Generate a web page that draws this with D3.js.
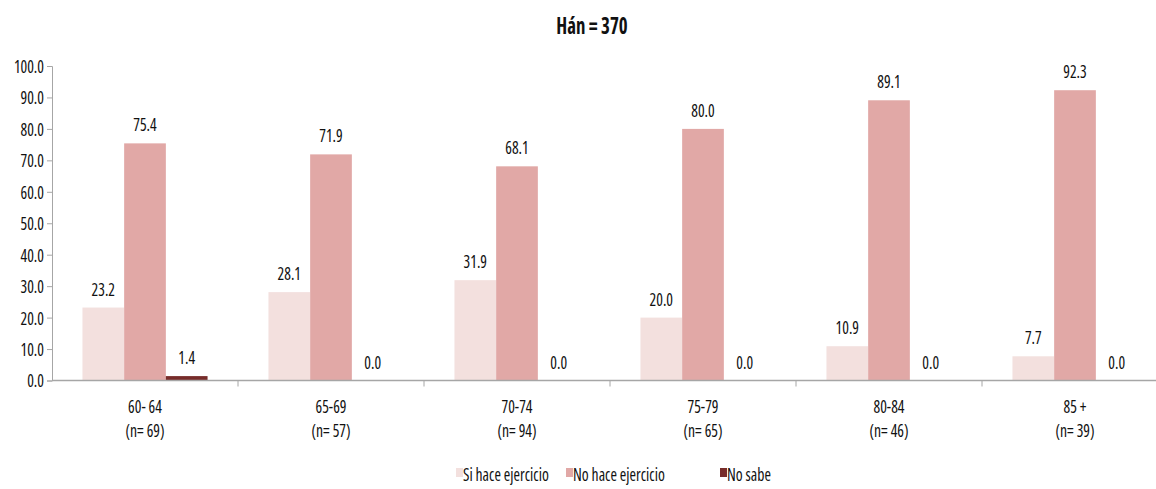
<!DOCTYPE html>
<html><head><meta charset="utf-8">
<script src="https://cdn.jsdelivr.net/npm/d3@7"></script>
<style>
body{margin:0;background:#fff;}
text{font-family:"Open Sans",sans-serif;font-stretch:condensed;fill:#111;}
</style></head>
<body><svg id="c" width="1156" height="489"></svg>
<script>
const categories = ["60- 64", "65-69", "70-74", "75-79", "80-84", "85 +"];
const nLabels = ["(n= 69)", "(n= 57)", "(n= 94)", "(n= 65)", "(n= 46)", "(n= 39)"];
const seriesNames = ["Si hace ejercicio", "No hace ejercicio", "No sabe"];
const siHace = [23.2, 28.1, 31.9, 20.0, 10.9, 7.7];
const noHace = [75.4, 71.9, 68.1, 80.0, 89.1, 92.3];
const noSabe = [1.4, 0.0, 0.0, 0.0, 0.0, 0.0];
const yTicks = [0, 10, 20, 30, 40, 50, 60, 70, 80, 90, 100];
const title = "Hán = 370";
const colors = ["#f3e0de", "#e1a8a6", "#772c2a"];

const FS = 18, SX = 0.87;
const series = [siHace, noHace, noSabe];
const svg = d3.select("#c");
const x0 = d3.scaleBand().domain(categories).range([52, 1168]).paddingInner(0).paddingOuter(0);
const x1 = d3.scaleBand().domain(d3.range(3)).range([0, x0.bandwidth()]).paddingOuter(0.73).paddingInner(0);
const y = d3.scaleLinear().domain([0, 100]).range([380.5, 66]);

function label(parent, x, yy, txt, anchor, size, sx) {
  return parent.append("text")
    .attr("transform", `translate(${x},${yy}) scale(${sx},1)`)
    .attr("text-anchor", anchor).style("font-size", size + "px").text(txt);
}

label(svg, 592, 34, title, "middle", 23, 0.82).style("font-weight", "bold");

// y axis
const ya = svg.append("g").attr("transform", "translate(52,0)")
  .call(d3.axisLeft(y).tickValues(yTicks).tickFormat(d3.format(".1f")).tickSize(5));
ya.select(".domain").attr("stroke", "#a6a6a6");
ya.selectAll(".tick line").attr("stroke", "#a6a6a6");
ya.selectAll(".tick text").attr("x", null).attr("dy", "0.36em")
  .attr("transform", `translate(-8,0) scale(${SX},1)`)
  .style("font-size", FS + "px").attr("fill", "#111");

// bars
const g = svg.append("g");
categories.forEach((c, i) => {
  series.forEach((s, j) => {
    const v = s[i];
    const bx = x0(c) + x1(j);
    g.append("rect").attr("x", bx).attr("y", y(v)).attr("width", x1.bandwidth())
      .attr("height", y(0) - y(v)).attr("fill", colors[j]);
    label(g, bx + x1.bandwidth() / 2, y(v) - 12, d3.format(".1f")(v), "middle", FS, SX);
  });
});

// x axis
const xa = svg.append("g").attr("transform", "translate(0,380.5)");
xa.append("line").attr("x1", 52).attr("x2", 1168).attr("stroke", "#a6a6a6").attr("stroke-width", 1.5);
categories.forEach((c, i) => {
  const bx = x0(c);
  xa.append("line").attr("x1", bx + x0.bandwidth()).attr("x2", bx + x0.bandwidth())
    .attr("y1", 0).attr("y2", 6).attr("stroke", "#a6a6a6");
  label(xa, bx + x0.bandwidth() / 2, 32.5, c, "middle", FS, SX);
  label(xa, bx + x0.bandwidth() / 2, 56, nLabels[i], "middle", FS, SX);
});

// legend
const legX = [456, 566, 720];
const lg = svg.append("g");
seriesNames.forEach((n, j) => {
  lg.append("rect").attr("x", legX[j]).attr("y", 468).attr("width", 7).attr("height", 9).attr("fill", colors[j]);
  label(lg, legX[j] + 7, 481, n, "start", FS, SX);
});
</script></body></html>
